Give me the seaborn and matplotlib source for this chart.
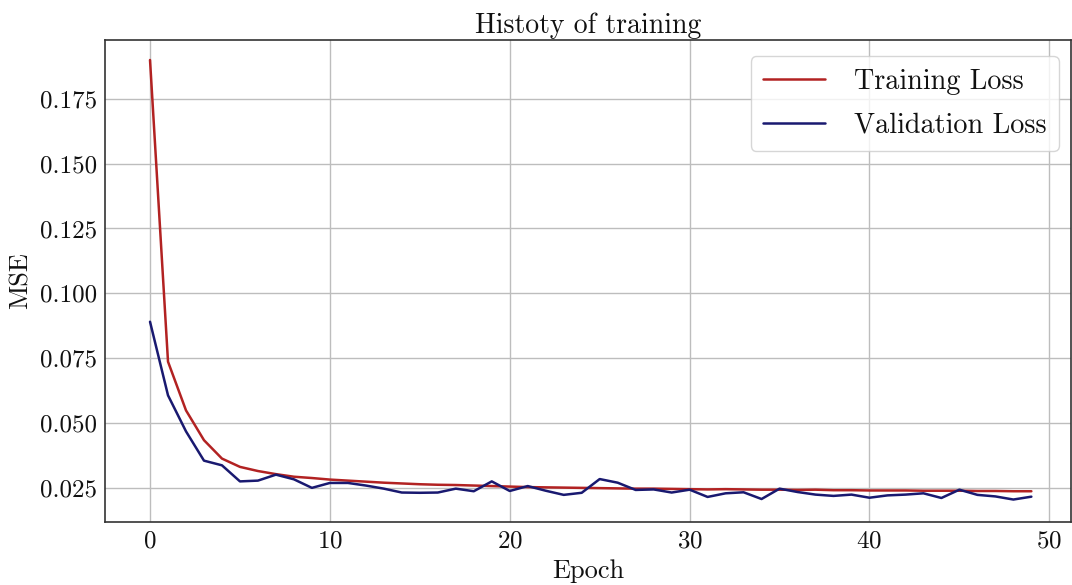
import numpy as np
import pandas as pd
import matplotlib
matplotlib.use("Agg")
import matplotlib.pyplot as plt
import seaborn as sns

epochs = list(range(50))
train_loss = [0.1900, 0.0736, 0.0548, 0.0433, 0.0362, 0.0330, 0.0314, 0.0302, 0.0292, 0.0287,
              0.0281, 0.0277, 0.0273, 0.0269, 0.0266, 0.0263, 0.0261, 0.0260, 0.0258, 0.0256,
              0.0254, 0.0252, 0.0251, 0.0250, 0.0249, 0.0248, 0.0247, 0.0246, 0.0246, 0.0245,
              0.0244, 0.0243, 0.0244, 0.0243, 0.0242, 0.0242, 0.0241, 0.0242, 0.0240, 0.0240,
              0.0239, 0.0239, 0.0239, 0.0238, 0.0238, 0.0238, 0.0237, 0.0237, 0.0236, 0.0236]
val_loss = [0.0890, 0.0606, 0.0467, 0.0354, 0.0336, 0.0274, 0.0277, 0.0300, 0.0282, 0.0249,
            0.0268, 0.0268, 0.0258, 0.0246, 0.0231, 0.0230, 0.0231, 0.0246, 0.0236, 0.0274,
            0.0237, 0.0256, 0.0238, 0.0222, 0.0230, 0.0283, 0.0269, 0.0241, 0.0243, 0.0231,
            0.0242, 0.0214, 0.0228, 0.0232, 0.0206, 0.0246, 0.0233, 0.0223, 0.0218, 0.0223,
            0.0211, 0.0220, 0.0223, 0.0228, 0.0210, 0.0242, 0.0222, 0.0216, 0.0204, 0.0215]
series_names = ["Training Loss", "Validation Loss"]
colors = ["#b22222", "#191970"]

df = pd.DataFrame({
    "Epoch": epochs * 2,
    "MSE": train_loss + val_loss,
    "Series": [series_names[0]] * len(epochs) + [series_names[1]] * len(epochs),
})

sns.set_style("whitegrid")
plt.rcParams["font.family"] = "serif"
plt.rcParams["font.serif"] = ["cmr10"]
plt.rcParams["mathtext.fontset"] = "cm"
plt.rcParams["axes.formatter.use_mathtext"] = True

fig = plt.figure(figsize=(10.72, 5.85), dpi=100)
ax = fig.add_axes([0.098, 0.108, 0.901, 0.824])

sns.lineplot(data=df, x="Epoch", y="MSE", hue="Series", palette=colors,
             linewidth=1.8, ax=ax)

ax.set_title("Histoty of training", fontsize=20, pad=5, color="#111111")
ax.set_xlabel("Epoch", fontsize=19, labelpad=5, color="#111111")
ax.set_ylabel("MSE", fontsize=19, labelpad=5, color="#111111")
ax.set_xticks([0, 10, 20, 30, 40, 50])
ax.set_yticks([0.025, 0.050, 0.075, 0.100, 0.125, 0.150, 0.175])
ax.set_yticklabels(["0.025", "0.050", "0.075", "0.100", "0.125", "0.150", "0.175"])
ax.set_xlim(-2.5, 51.2)
ax.set_ylim(0.0118, 0.1978)
ax.tick_params(axis="both", direction="in", length=7, width=1.2, labelsize=18,
               colors="#222222", labelcolor="#111111", pad=6)
ax.grid(True, color="#bdbdbd", linewidth=1.0)
for s in ax.spines.values():
    s.set_color("#333333")
    s.set_linewidth(1.2)

leg = ax.legend(loc="upper right", fontsize=20.3, framealpha=0.8, edgecolor="#cccccc",
                handlelength=2.2, borderpad=0.45, handletextpad=1.0, labelspacing=0.6,
                borderaxespad=0, bbox_to_anchor=(0.9876, 0.966))
for t in leg.get_texts():
    t.set_color("#111111")

fig.savefig("out.png", dpi=100)
